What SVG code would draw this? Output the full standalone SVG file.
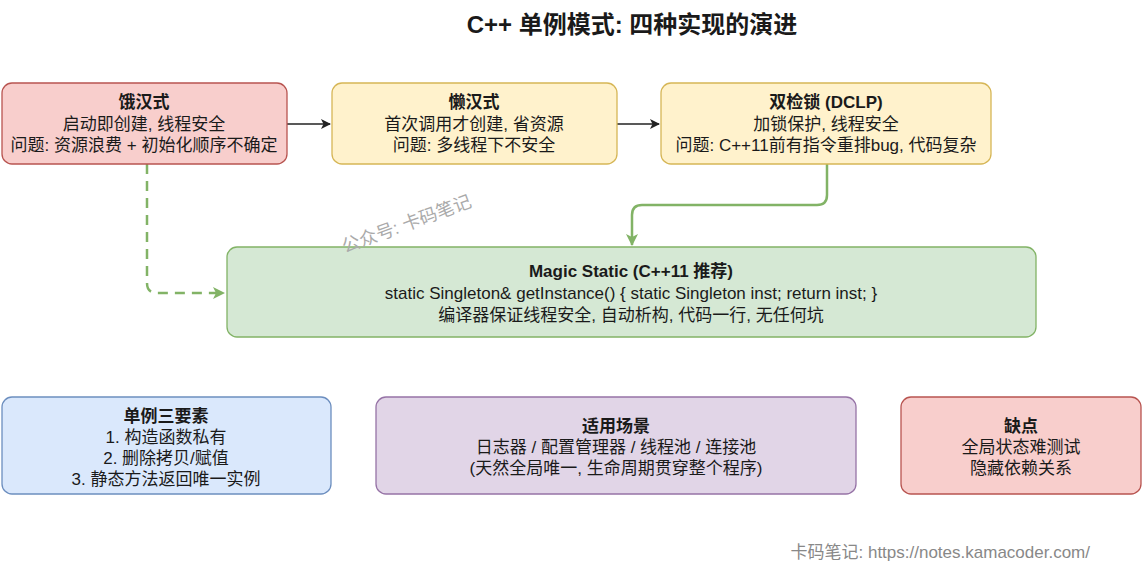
<svg xmlns="http://www.w3.org/2000/svg" width="1145" height="572" viewBox="0 0 1145 572">
<style>
text{font-family:"Liberation Sans","Noto Sans CJK SC",sans-serif;font-size:17px;fill:#1a1a1a;text-anchor:middle}
.b{font-weight:bold}
.t{font-size:24px;font-weight:bold}
.box{stroke-width:1.3}
.red{fill:#f8cecc;stroke:#b85450}.yel{fill:#fff2cc;stroke:#d6b656}.grn{fill:#d5e8d4;stroke:#82b366}
.blu{fill:#dae8fc;stroke:#6c8ebf}.pur{fill:#e1d5e7;stroke:#9673a6}
</style>
<defs>
<marker id="ab" markerWidth="10" markerHeight="10" refX="9" refY="5" orient="auto" markerUnits="userSpaceOnUse"><path d="M0,0 L10,5 L0,10 L2.5,5z" fill="#222"/></marker>
<marker id="ag" markerWidth="12" markerHeight="12" refX="11" refY="6" orient="auto" markerUnits="userSpaceOnUse"><path d="M0,0 L12,6 L0,12 L3,6z" fill="#82b366"/></marker>
</defs>
<rect width="1145" height="572" fill="#fff"/>
<text x="632" y="33" class="t">C++ 单例模式: 四种实现的演进</text>
<g id="connectors" fill="none">
<path d="M287,124 H330" stroke="#222" stroke-width="1.3" marker-end="url(#ab)"/>
<path d="M617,124 H659" stroke="#222" stroke-width="1.3" marker-end="url(#ab)"/>
<path d="M827,164 V195 Q827,205 817,205 H642 Q632,205 632,215 V245" stroke="#82b366" stroke-width="2.5" marker-end="url(#ag)"/>
<path d="M147,164 V283 Q147,293 157,293 H224" stroke="#82b366" stroke-width="2.5" stroke-dasharray="10,7" marker-end="url(#ag)"/>
</g>
<g id="n1"><rect class="box red" x="2" y="83" width="285" height="81" rx="10"/>
<text x="144" y="108" class="b">饿汉式</text><text x="144" y="130">启动即创建, 线程安全</text><text x="144" y="151">问题: 资源浪费 + 初始化顺序不确定</text></g>
<g id="n2"><rect class="box yel" x="332" y="83" width="285" height="81" rx="10"/>
<text x="474" y="108" class="b">懒汉式</text><text x="474" y="130">首次调用才创建, 省资源</text><text x="474" y="151">问题: 多线程下不安全</text></g>
<g id="n3"><rect class="box yel" x="661" y="83" width="330" height="81" rx="10"/>
<text x="826" y="108" class="b">双检锁 (DCLP)</text><text x="826" y="130">加锁保护, 线程安全</text><text x="826" y="151">问题: C++11前有指令重排bug, 代码复杂</text></g>
<g id="n4"><rect class="box grn" x="227" y="247" width="809" height="90" rx="10"/>
<text x="631" y="277" class="b">Magic Static (C++11 推荐)</text><text x="631" y="299">static Singleton&amp; getInstance() { static Singleton inst; return inst; }</text><text x="631" y="321">编译器保证线程安全, 自动析构, 代码一行, 无任何坑</text></g>
<g id="n5"><rect class="box blu" x="2" y="397" width="329" height="97" rx="10"/>
<text x="166" y="422" class="b">单例三要素</text><text x="166" y="443">1. 构造函数私有</text><text x="166" y="464">2. 删除拷贝/赋值</text><text x="166" y="485">3. 静态方法返回唯一实例</text></g>
<g id="n6"><rect class="box pur" x="376" y="397" width="480" height="97" rx="10"/>
<text x="616" y="432" class="b">适用场景</text><text x="616" y="453">日志器 / 配置管理器 / 线程池 / 连接池</text><text x="616" y="474">(天然全局唯一, 生命周期贯穿整个程序)</text></g>
<g id="n7"><rect class="box red" x="901" y="397" width="240" height="97" rx="10"/>
<text x="1021" y="432" class="b">缺点</text><text x="1021" y="453">全局状态难测试</text><text x="1021" y="474">隐藏依赖关系</text></g>
<text x="407" y="230" transform="rotate(-20 407 225)" style="fill:#aaa;font-size:18px">公众号: 卡码笔记</text>
<text x="1090" y="558" style="fill:#888;text-anchor:end;font-size:17px">卡码笔记: https://notes.kamacoder.com/</text>
</svg>
